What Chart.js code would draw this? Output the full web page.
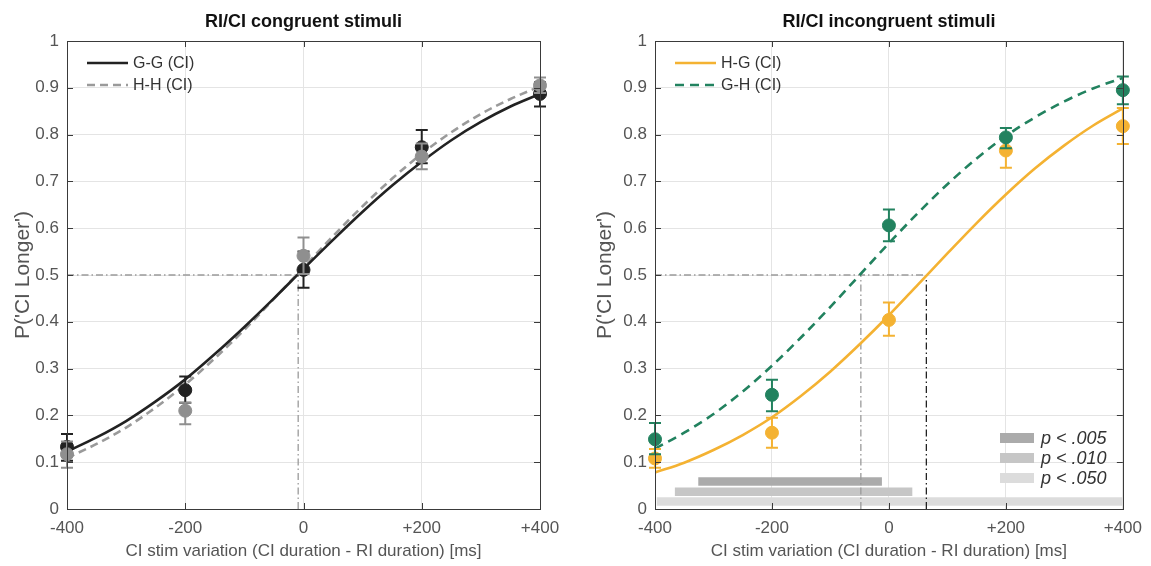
<!DOCTYPE html>
<html><head><meta charset="utf-8">
<script src="https://cdn.jsdelivr.net/npm/chart.js@4.4.1/dist/chart.umd.min.js"></script>
<style>
html,body{margin:0;padding:0;background:#fff;}
#wrap{position:relative;width:1151px;height:566px;overflow:hidden;}
.c{position:absolute;top:0;height:566px;}
</style></head><body>
<div id="wrap">
<div class="c" style="left:0;width:575px"><canvas id="c1"></canvas></div>
<div class="c" style="left:575px;width:576px"><canvas id="c2"></canvas></div>
</div>
<script>
// ---------- data ----------
const stimX = [-400, -200, 0, 200, 400];
const xTickLabels = ['-400', '-200', '0', '+200', '+400'];
const yTickLabels = ['0','0.1','0.2','0.3','0.4','0.5','0.6','0.7','0.8','0.9','1'];

// left panel: congruent
const ggMean = [0.133, 0.254, 0.511, 0.773, 0.887];
const ggLow  = [0.103, 0.227, 0.473, 0.739, 0.860];
const ggHigh = [0.160, 0.283, 0.550, 0.810, 0.912];
const hhMean = [0.117, 0.210, 0.541, 0.753, 0.905];
const hhLow  = [0.088, 0.181, 0.502, 0.726, 0.889];
const hhHigh = [0.144, 0.227, 0.580, 0.781, 0.922];

// right panel: incongruent
const hgMean = [0.108, 0.163, 0.404, 0.766, 0.818];
const hgLow  = [0.088, 0.131, 0.370, 0.729, 0.780];
const hgHigh = [0.128, 0.195, 0.441, 0.790, 0.857];
const ghMean = [0.149, 0.244, 0.606, 0.794, 0.895];
const ghLow  = [0.117, 0.209, 0.572, 0.771, 0.865];
const ghHigh = [0.184, 0.276, 0.640, 0.814, 0.924];

// fitted curves (every 50 ms)
const fitX  = [-400,-350,-300,-250,-200,-150,-100,-50,0,50,100,150,200,250,300,350,400];
const ggFit = [0.123,0.153,0.188,0.230,0.277,0.331,0.389,0.450,0.513,0.575,0.635,0.691,0.742,0.788,0.827,0.860,0.887];
const hhFit = [0.109,0.139,0.174,0.217,0.266,0.322,0.383,0.449,0.516,0.583,0.647,0.706,0.759,0.805,0.844,0.876,0.903];
const hgFit = [0.078,0.099,0.126,0.158,0.196,0.242,0.294,0.352,0.414,0.480,0.546,0.611,0.672,0.728,0.777,0.820,0.856];
const ghFit = [0.129,0.163,0.203,0.251,0.306,0.367,0.432,0.500,0.568,0.633,0.694,0.749,0.797,0.837,0.871,0.899,0.921];

// points of subjective equality (ms)
const pseLeft = -9;
const pseHG = 64;
const pseGH = -48;

// significance ranges (ms)
const sigLabels = ['p < .005', 'p < .010', 'p < .050'];
const sigStart  = [-326, -366, -397];
const sigEnd    = [-12, 40, 400];
const sigLevel  = [0.059, 0.037, 0.016];
const sigColors = ['#ababab', '#c6c6c6', '#dcdcdc'];

// ---------- helpers ----------
const FONT = '"Liberation Sans", Arial, sans-serif';
Chart.defaults.font.family = FONT;
Chart.defaults.color = '#555';

const pts = (xs, ys) => xs.map((x, i) => ({x: x, y: ys[i]}));

const errorBarPlugin = {
  id: 'errorBars',
  beforeDatasetDraw(chart, args) {
    const ds = chart.data.datasets[args.index];
    if (!ds.errLow) return;
    const ctx = chart.ctx, xs = chart.scales.x, ys = chart.scales.y;
    ctx.save();
    ctx.strokeStyle = ds.backgroundColor;
    ctx.lineWidth = 2;
    ds.data.forEach((p, i) => {
      const px = xs.getPixelForValue(p.x);
      const lo = ys.getPixelForValue(ds.errLow[i]);
      const hi = ys.getPixelForValue(ds.errHigh[i]);
      ctx.beginPath();
      ctx.moveTo(px, lo); ctx.lineTo(px, hi);
      ctx.moveTo(px - 6, lo); ctx.lineTo(px + 6, lo);
      ctx.moveTo(px - 6, hi); ctx.lineTo(px + 6, hi);
      ctx.stroke();
    });
    ctx.restore();
  }
};

const framePlugin = {
  id: 'frame',
  afterDraw(chart) {
    const {ctx, chartArea: a, scales} = chart;
    ctx.save();
    ctx.strokeStyle = '#3a3a3a';
    ctx.lineWidth = 1;
    ctx.strokeRect(Math.round(a.left) + 0.5, Math.round(a.top) + 0.5, Math.round(a.right - a.left), Math.round(a.bottom - a.top));
    ctx.beginPath();
    scales.x.ticks.forEach(t => {
      const px = Math.round(scales.x.getPixelForValue(t.value)) + 0.5;
      ctx.moveTo(px, a.bottom); ctx.lineTo(px, a.bottom - 6);
      ctx.moveTo(px, a.top); ctx.lineTo(px, a.top + 6);
    });
    scales.y.ticks.forEach(t => {
      const py = Math.round(scales.y.getPixelForValue(t.value)) + 0.5;
      ctx.moveTo(a.left, py); ctx.lineTo(a.left + 6, py);
      ctx.moveTo(a.right, py); ctx.lineTo(a.right - 6, py);
    });
    ctx.stroke();
    // title
    const o = chart.options.plugins.panel;
    ctx.fillStyle = '#111';
    ctx.font = 'bold 18px ' + FONT;
    ctx.textAlign = 'center';
    ctx.textBaseline = 'middle';
    ctx.fillText(o.title, (a.left + a.right) / 2, 22);
    // legend
    ctx.font = '16px ' + FONT;
    ctx.textAlign = 'left';
    o.legend.forEach((d, i) => {
      const ds = chart.data.datasets[d];
      const y = a.top + 22 + i * 22;
      ctx.strokeStyle = ds.borderColor;
      ctx.lineWidth = ds.borderWidth;
      ctx.setLineDash(ds.borderDash || []);
      ctx.beginPath();
      ctx.moveTo(a.left + 20, y); ctx.lineTo(a.left + 61, y);
      ctx.stroke();
      ctx.setLineDash([]);
      ctx.fillStyle = '#333';
      ctx.fillText(ds.label, a.left + 66, y + 1);
    });
    if (o.sigLegend) {
      ctx.font = 'italic 18px ' + FONT;
      sigLabels.forEach((lab, i) => {
        const y = 438 + i * 20;
        ctx.fillStyle = sigColors[i];
        ctx.fillRect(a.left + 345, y - 5, 34, 10);
        ctx.fillStyle = '#333';
        ctx.fillText(lab, a.left + 386, y + 1);
      });
    }
    ctx.restore();
  }
};

function axes(leftW, titlePad) {
  return {
    x: {
      type: 'linear', min: -400, max: 400,
      afterBuildTicks: s => { s.ticks = stimX.map(v => ({value: v})); },
      ticks: { callback: (v) => xTickLabels[stimX.indexOf(v)], font: {size: 17}, color: '#555', padding: 9, maxRotation: 0 },
      grid: { color: '#e4e4e4', drawTicks: false },
      border: { display: false },
      title: { display: true, text: 'CI stim variation (CI duration - RI duration) [ms]', font: {size: 17}, color: '#555', padding: {top: 0, bottom: 4} },
      afterFit: s => { s.height = 57; }
    },
    y: {
      type: 'linear', min: 0, max: 1,
      afterBuildTicks: s => { s.ticks = yTickLabels.map((l, i) => ({value: i / 10})); },
      ticks: { callback: (v, i) => yTickLabels[i], font: {size: 17}, color: '#555', padding: 8 },
      grid: { color: '#e4e4e4', drawTicks: false },
      border: { display: false },
      title: { display: true, text: "P('CI Longer')", font: {size: 21}, color: '#555', padding: {top: titlePad, bottom: 0} },
      afterFit: s => { s.width = leftW; }
    }
  };
}

const refLine = (data, color) => ({
  type: 'line', data: data, borderColor: color, borderWidth: 1.3,
  borderDash: [7, 3, 1.5, 3], pointRadius: 0, fill: false, order: 5
});
const curve = (label, data, color, dash) => ({
  type: 'line', label: label, data: data, borderColor: color, borderWidth: 2.6,
  borderDash: dash, pointRadius: 0, fill: false, cubicInterpolationMode: 'monotone', order: 3
});
const dots = (mean, lo, hi, color, order) => ({
  type: 'scatter', data: pts(stimX, mean), errLow: lo, errHigh: hi,
  backgroundColor: color, borderColor: color, pointRadius: 6.5, pointHoverRadius: 6.5,
  showLine: false, order: order, clip: false
});

// ---------- left chart ----------
const leftDatasets = [
  curve('G-G (CI)', pts(fitX, ggFit), '#222222', []),
  curve('H-H (CI)', pts(fitX, hhFit), '#9a9a9a', [8, 5]),
  dots(ggMean, ggLow, ggHigh, '#222222', 2),
  dots(hhMean, hhLow, hhHigh, '#8f8f8f', 1),
  refLine([{x: -400, y: 0.5}, {x: pseLeft, y: 0.5}], '#9a9a9a'),
  refLine([{x: pseLeft, y: 0}, {x: pseLeft, y: 0.5}], '#9a9a9a')
];
leftDatasets[1].order = 4;

new Chart(document.getElementById('c1'), {
  data: { datasets: leftDatasets },
  options: {
    responsive: true, maintainAspectRatio: false, animation: false,
    layout: { padding: { top: 41, right: 35, left: 0, bottom: 0 } },
    scales: axes(67, 11),
    plugins: {
      legend: { display: false }, tooltip: { enabled: false },
      panel: { title: 'RI/CI congruent stimuli', legend: [0, 1] }
    }
  },
  plugins: [errorBarPlugin, framePlugin]
});

// ---------- right chart ----------
const sigDatasets = sigLabels.map((lab, i) => ({
  type: 'line', data: [{x: sigStart[i], y: sigLevel[i]}, {x: sigEnd[i], y: sigLevel[i]}],
  borderColor: sigColors[i], borderWidth: 8.5, borderCapStyle: 'butt', pointRadius: 0, order: 9
}));
const rightDatasets = [
  curve('H-G (CI)', pts(fitX, hgFit), '#f4b232', []),
  curve('G-H (CI)', pts(fitX, ghFit), '#22825f', [9, 6]),
  dots(hgMean, hgLow, hgHigh, '#f4b232', 2),
  dots(ghMean, ghLow, ghHigh, '#22825f', 1),
  refLine([{x: -400, y: 0.5}, {x: pseHG, y: 0.5}], '#9a9a9a'),
  refLine([{x: pseGH, y: 0}, {x: pseGH, y: 0.5}], '#9a9a9a'),
  refLine([{x: pseHG, y: 0}, {x: pseHG, y: 0.5}], '#222222')
].concat(sigDatasets);

new Chart(document.getElementById('c2'), {
  data: { datasets: rightDatasets },
  options: {
    responsive: true, maintainAspectRatio: false, animation: false,
    layout: { padding: { top: 41, right: 27, left: 0, bottom: 0 } },
    scales: axes(80, 18),
    plugins: {
      legend: { display: false }, tooltip: { enabled: false },
      panel: { title: 'RI/CI incongruent stimuli', legend: [0, 1], sigLegend: true }
    }
  },
  plugins: [errorBarPlugin, framePlugin]
});
</script>
</body></html>
